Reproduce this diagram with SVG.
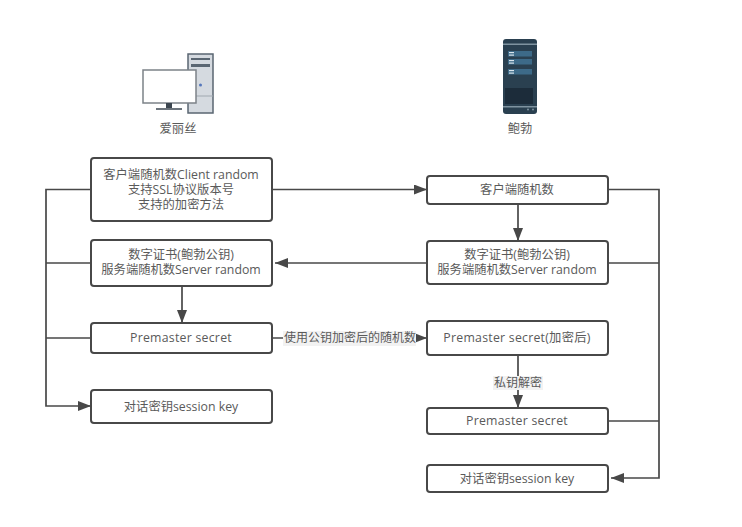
<svg xmlns="http://www.w3.org/2000/svg" width="742" height="527" viewBox="0 0 742 527">
<style>
.b{fill:#fff;stroke:#484848;stroke-width:2}
.c{fill:none;stroke:#484848;stroke-width:1.7}
text{font-family:"Open Sans","Noto Sans CJK SC",sans-serif;font-size:12.3px;fill:#5a5a5a;text-anchor:middle}
.p{letter-spacing:.25px}
.t{font-size:12px}
.l{fill:#f2f2f2}
.r{fill:#3d6a88}
.d{fill:#d8e4ec}
</style>
<defs><marker id="a" markerUnits="userSpaceOnUse" markerWidth="14" markerHeight="12" refX="13" refY="5" orient="auto"><path d="M0 0L13 5L0 10Z" fill="#484848"/></marker></defs>
<rect width="742" height="527" fill="#fff"/>
<g id="icon-alice">
<rect x="188" y="54" width="25" height="59" fill="#d5dae0" stroke="#5a6672" stroke-width="1.500"/>
<rect x="191" y="58" width="19" height="2" fill="#5a6672"/><rect x="191" y="64" width="19" height="3" fill="#5a6672"/>
<line x1="188" y1="96" x2="213" y2="96" stroke="#a0a8b0"/>
<circle cx="200.500" cy="85" r="1.500" fill="#5577bb"/>
<rect x="143" y="70" width="53" height="33" fill="#fff" stroke="#7c8288" stroke-width="1.500"/>
<rect x="166" y="103" width="6" height="6" fill="#3c4650"/><rect x="156" y="108" width="26" height="2" fill="#6c747c"/>
<text x="178" y="133">爱丽丝</text></g>
<g id="icon-bob">
<rect x="503" y="39" width="34" height="75" rx="3" fill="#2a4050"/>
<rect x="503" y="43.500" width="34" height="1.500" fill="#7f93a0"/><rect x="503" y="106" width="34" height="1.500" fill="#7f93a0"/>
<rect class="r" x="508" y="51" width="24" height="5.500"/><rect class="r" x="508" y="59" width="24" height="5.500"/><rect class="r" x="508" y="69" width="24" height="5.500"/>
<rect class="d" x="509" y="52" width="5" height="1.200"/><rect class="d" x="509" y="54.500" width="5" height="1.200"/><rect class="d" x="509" y="60" width="5" height="1.200"/><rect class="d" x="509" y="62.500" width="5" height="1.200"/><rect class="d" x="509" y="70" width="5" height="1.200"/><rect class="d" x="509" y="72.500" width="5" height="1.200"/>
<rect x="505" y="88" width="28" height="16" fill="#1c2c3a"/>
<circle cx="528" cy="109.500" r="1" fill="#7f93a0"/><circle cx="533" cy="109.500" r="1" fill="#7f93a0"/>
<text x="520" y="133">鲍勃</text></g>
<g id="connectors" class="c">
<path d="M272 189.500H427" marker-end="url(#a)"/>
<path d="M427 263H275" marker-end="url(#a)"/>
<path d="M182 286V323" marker-end="url(#a)"/>
<path d="M272 338H427" marker-end="url(#a)"/>
<path d="M518 204V241" marker-end="url(#a)"/>
<path d="M518 355V408" marker-end="url(#a)"/>
<path d="M91 189.500H46V406H91" marker-end="url(#a)"/>
<path d="M91 263H46M91 338H46"/>
<path d="M608 189.500H659V478H611" marker-end="url(#a)"/>
<path d="M608 263H659M608 421H659"/>
</g>
<g id="n1"><rect class="b" x="91" y="158" width="181" height="63" rx="3"/><text><tspan x="181" y="179">客户端随机数Client random</tspan><tspan x="181" y="194">支持SSL协议版本号</tspan><tspan x="181" y="209">支持的加密方法</tspan></text></g>
<g id="n2"><rect class="b" x="91" y="240" width="181" height="46" rx="3"/><text><tspan x="181" y="259">数字证书(鲍勃公钥)</tspan><tspan x="181" y="274">服务端随机数Server random</tspan></text></g>
<g id="n3"><rect class="b" x="91" y="323" width="181" height="30" rx="3"/><text class="p" x="181" y="342">Premaster secret</text></g>
<g id="n4"><rect class="b" x="91" y="390" width="181" height="33" rx="3"/><text x="181" y="411">对话密钥session key</text></g>
<g id="n5"><rect class="b" x="427" y="176" width="181" height="28" rx="3"/><text x="517" y="194">客户端随机数</text></g>
<g id="n6"><rect class="b" x="427" y="241" width="181" height="43" rx="3"/><text><tspan x="517" y="259">数字证书(鲍勃公钥)</tspan><tspan x="517" y="274">服务端随机数Server random</tspan></text></g>
<g id="n7"><rect class="b" x="427" y="321" width="181" height="34" rx="3"/><text class="p" x="517" y="342">Premaster secret(加密后)</text></g>
<g id="n8"><rect class="b" x="427" y="408" width="181" height="26" rx="3"/><text class="p" x="517" y="425">Premaster secret</text></g>
<g id="n9"><rect class="b" x="427" y="465" width="181" height="27" rx="3"/><text x="517" y="483">对话密钥session key</text></g>
<g id="labels">
<rect class="l" x="283" y="331" width="133" height="15"/><text class="t" x="350" y="342">使用公钥加密后的随机数</text>
<rect class="l" x="493" y="376" width="50" height="14"/><text class="t" x="518" y="387">私钥解密</text>
</g>
</svg>
